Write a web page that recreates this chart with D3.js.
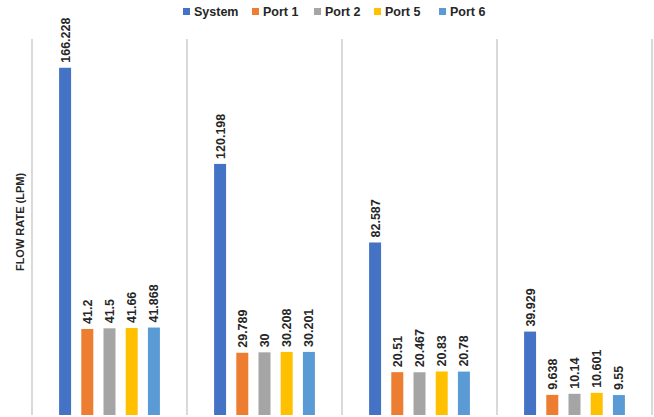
<!DOCTYPE html>
<html>
<head>
<meta charset="utf-8">
<script src="https://cdn.jsdelivr.net/npm/d3@7"></script>
<style>
  html, body { margin: 0; padding: 0; background: #fff; }
  svg { display: block; }
  text { font-family: "Liberation Sans", Arial, sans-serif; font-weight: bold; fill: #262626; }
</style>
</head>
<body>
<svg id="chart" width="654" height="417"></svg>
<script>
// Flow rate per outlet for four test conditions
const conditions = ["1", "2", "3", "4"];
const series = ["System", "Port 1", "Port 2", "Port 5", "Port 6"];
const systemFlow = [166.228, 120.198, 82.587, 39.929];
const port1Flow  = [41.2, 29.789, 20.51, 9.638];
const port2Flow  = [41.5, 30, 20.467, 10.14];
const port5Flow  = [41.66, 30.208, 20.83, 10.601];
const port6Flow  = [41.868, 30.201, 20.78, 9.55];
const colors = ["#4472C4", "#ED7D31", "#A5A5A5", "#FFC000", "#5B9BD5"];
const yDomainMax = 180;
const yTitle = "FLOW RATE (LPM)";

const seriesValues = [systemFlow, port1Flow, port2Flow, port5Flow, port6Flow];
const rows = conditions.map((c, i) => ({
  condition: c,
  values: series.map((s, j) => ({ series: s, value: seriesValues[j][i] }))
}));

const svg = d3.select("#chart");
const plot = { left: 32, right: 652, top: 39, bottom: 415 };

const x0 = d3.scaleBand().domain(conditions).range([plot.left, plot.right]).padding(0);
const x1 = d3.scaleBand().domain(series).range([0, x0.bandwidth()])
  .paddingInner(0.46).paddingOuter(1.22);
const y = d3.scaleLinear().domain([0, yDomainMax]).range([plot.bottom, plot.top]);
const color = d3.scaleOrdinal().domain(series).range(colors);

// Category dividers
const bounds = conditions.map(c => x0(c)).concat([x0(conditions[conditions.length - 1]) + x0.bandwidth()]);
svg.append("g").selectAll("line").data(bounds).join("line")
  .attr("x1", d => d).attr("x2", d => d)
  .attr("y1", plot.top).attr("y2", plot.bottom)
  .attr("stroke", "#d9d9d9").attr("stroke-width", 2);

// Bars and value labels
const groups = svg.append("g").selectAll("g").data(rows).join("g")
  .attr("transform", d => `translate(${x0(d.condition)},0)`);

groups.selectAll("rect").data(d => d.values).join("rect")
  .attr("x", d => x1(d.series))
  .attr("width", x1.bandwidth())
  .attr("y", d => y(d.value))
  .attr("height", d => y(0) - y(d.value))
  .attr("fill", d => color(d.series));

groups.selectAll("text").data(d => d.values).join("text")
  .attr("transform", d => `translate(${x1(d.series) + x1.bandwidth() / 2 + 4.5},${y(d.value) - 5}) rotate(-90)`)
  .attr("text-anchor", "start")
  .style("font-size", "12.5px")
  .text(d => String(d.value));

// Axis title
svg.append("text")
  .attr("transform", `translate(24,222) rotate(-90)`)
  .attr("text-anchor", "middle")
  .style("font-size", "11px")
  .text(yTitle);

// Legend
const legendX = [183, 252, 314, 374, 439];
const legend = svg.append("g").selectAll("g").data(series).join("g")
  .attr("transform", (d, i) => `translate(${legendX[i]},8)`);
legend.append("rect").attr("width", 7).attr("height", 7).attr("fill", d => color(d));
legend.append("text").attr("x", 11).attr("y", 8)
  .style("font-size", "12.5px")
  .text(d => d);
</script>
</body>
</html>
